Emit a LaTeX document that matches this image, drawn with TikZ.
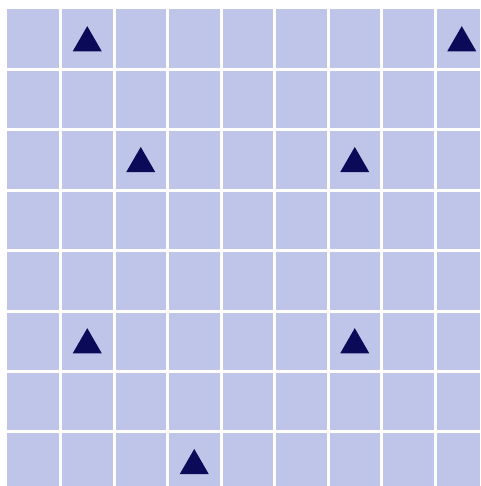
\documentclass[tikz,border=0pt]{standalone}
\usetikzlibrary{shapes.geometric}
\definecolor{cellfill}{HTML}{BFC5E8}
\definecolor{markfill}{HTML}{0A0A58}
\begin{document}
\begin{tikzpicture}[
    x=1pt, y=-1pt,
    board/.style={fill=cellfill},
    gridline/.style={draw=white, line width=3pt},
    marker/.style={
        regular polygon,
        regular polygon sides=3,
        fill=markfill,
        inner sep=0pt,
        minimum size=33.5pt
    }
]
\useasboundingbox (0,0) rectangle (480,486);

% ===== Board =====
\fill[board] (7,9) rectangle (480,486);

% ===== Grid lines =====
\foreach \i in {1,...,8}
    \draw[gridline] ({7+53.5*\i},9) -- ({7+53.5*\i},486);
\foreach \j in {1,...,7}
    \draw[gridline] (7,{9+60.4*\j}) -- (480,{9+60.4*\j});

% ===== Markers =====
\foreach \c/\r [count=\n] in {1/0, 8/0, 2/2, 6/2, 1/5, 6/5, 3/7}
    \node[marker] (m\n) at ({7+53.5*(\c+0.5)}, {9+60.4*(\r+0.5)+3.7}) {};

\end{tikzpicture}
\end{document}
